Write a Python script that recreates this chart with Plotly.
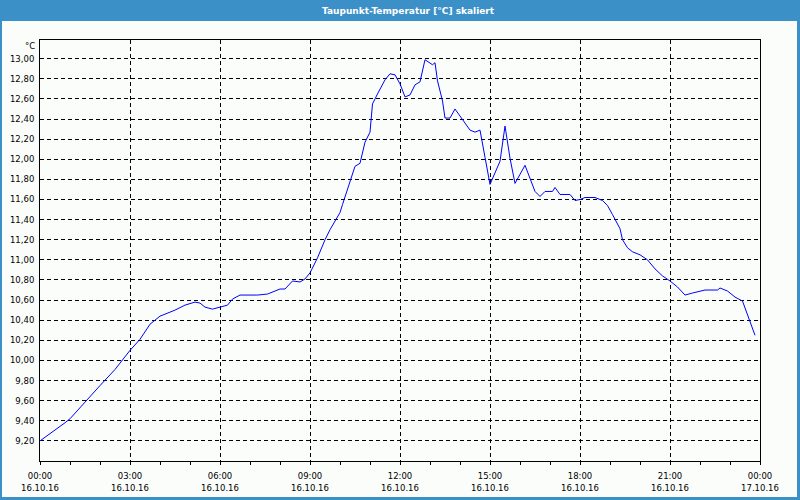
import plotly.graph_objects as go

# --- data ---
times = ["00:00","00:20","00:30","00:50","01:00","01:30","02:00","02:30","03:00","03:20",
         "03:40","04:00","04:30","04:50","05:10","05:20","05:30","05:45","06:00","06:15",
         "06:25","06:40","07:15","07:35","08:00","08:10","08:25","08:40","08:50","09:00",
         "09:15","09:30","09:40","09:50","10:00","10:05","10:20","10:30","10:40","10:50",
         "11:00","11:05","11:15","11:30","11:40","11:50","12:00","12:10","12:20","12:30",
         "12:40","12:50","13:05","13:10","13:15","13:25","13:30","13:40","13:50","14:05",
         "14:20","14:30","14:40","14:50","15:00","15:20","15:30","15:40","15:50","16:10",
         "16:20","16:30","16:40","16:50","17:05","17:10","17:20","17:40","17:50","18:00",
         "18:10","18:30","18:45","18:55","19:05","19:15","19:20","19:25","19:35","19:45",
         "20:00","20:15","20:30","20:45","21:00","21:15","21:30","21:45","22:00","22:10",
         "22:35","22:40","22:55","23:10","23:25","23:30","23:40","23:45","23:50"]
dewpoint = [9.20,9.27,9.31,9.38,9.42,9.59,9.75,9.91,10.10,10.21,
            10.36,10.44,10.50,10.55,10.58,10.57,10.53,10.51,10.53,10.55,
            10.61,10.65,10.65,10.66,10.71,10.71,10.79,10.78,10.81,10.87,
            11.02,11.20,11.30,11.38,11.47,11.55,11.78,11.93,11.96,12.17,
            12.27,12.55,12.65,12.79,12.85,12.84,12.75,12.62,12.64,12.74,
            12.77,12.99,12.94,12.96,12.78,12.58,12.41,12.41,12.50,12.40,
            12.29,12.27,12.29,12.02,11.75,11.98,12.33,12.01,11.76,11.94,
            11.80,11.68,11.63,11.68,11.68,11.72,11.65,11.65,11.59,11.60,
            11.62,11.62,11.59,11.54,11.45,11.36,11.31,11.20,11.12,11.08,
            11.05,11.00,10.91,10.84,10.79,10.73,10.65,10.67,10.69,10.70,
            10.70,10.72,10.69,10.63,10.59,10.52,10.40,10.32,10.25]
date = "2016-10-16"
x_vals = [f"{date} {t}" for t in times]
y_ticks = [9.2, 9.4, 9.6, 9.8, 10.0, 10.2, 10.4, 10.6, 10.8, 11.0,
           11.2, 11.4, 11.6, 11.8, 12.0, 12.2, 12.4, 12.6, 12.8, 13.0]
title_text = "Taupunkt-Temperatur [°C] skaliert"
unit_text = "°C"

BLUE = "#3c90c8"
BG = "#fbfdfb"
FONT = "DejaVu Sans"
x_range = ["2016-10-16 00:00", "2016-10-17 00:00"]
H = 3600000

fig = go.Figure()
fig.add_trace(go.Scatter(x=x_vals, y=dewpoint, mode="lines",
                         line=dict(color="#0000ff", width=1), xaxis="x", yaxis="y",
                         showlegend=False, hoverinfo="skip"))
# invisible trace for the date axis
fig.add_trace(go.Scatter(x=x_range, y=[None, None], xaxis="x2", yaxis="y",
                         showlegend=False, hoverinfo="skip"))

W, Hh = 800, 500
ml, mr, mt, mb = 40, 40, 40, 39
pw, ph = W - ml - mr, Hh - mt - mb
def px(xp): return (xp - ml) / pw
def py(yp): return 1 - (yp - mt) / ph

fig.update_layout(
    width=W, height=Hh,
    margin=dict(l=ml, r=mr, t=mt, b=mb, pad=0, autoexpand=False),
    paper_bgcolor=BLUE, plot_bgcolor=BG,
    separators=",.",
    font=dict(family=FONT, size=8.5, color="#000000"),
    xaxis=dict(type="date", range=x_range, tickformat="%H:%M", dtick=3 * H,
               tick0="2016-10-16 00:00", automargin=False,
               showgrid=True, gridcolor="#000000", griddash="4px,3px", gridwidth=1,
               showline=True, linecolor="#000000", linewidth=1, mirror=True,
               ticks="outside", ticklen=3, tickcolor="#000000", tickwidth=1,
               minor=dict(dtick=H, ticks="outside", ticklen=3, tickcolor="#000000",
                          showgrid=False),
               zeroline=False, fixedrange=True, ticklabelstandoff=4),
    xaxis2=dict(type="date", range=x_range, tickformat="%d.%m.%y", dtick=3 * H,
                tick0="2016-10-16 00:00", overlaying="x", side="bottom", anchor="y",
                showgrid=False, showline=False, ticks="", zeroline=False,
                automargin=False, ticklabelstandoff=20, fixedrange=True),
    yaxis=dict(range=[9.0, 13.186], tickvals=y_ticks, tickformat=".2f",
               showgrid=True, gridcolor="#000000", griddash="4px,3px", gridwidth=1,
               showline=True, linecolor="#000000", linewidth=1, mirror=True,
               automargin=False,
               ticks="", zeroline=False, fixedrange=True, ticklabelstandoff=3),
    shapes=[dict(type="rect", xref="paper", yref="paper", layer="below",
                 x0=px(2), x1=px(797), y0=py(497), y1=py(21),
                 fillcolor=BG, line=dict(width=0))],
    annotations=[
        dict(text="<b>" + title_text + "</b>", xref="paper", yref="paper", x=px(408), y=py(10.5),
             xanchor="center", yanchor="middle", showarrow=False,
             font=dict(family=FONT, size=9, color="#ffffff")),
        dict(text=unit_text, xref="paper", yref="paper", x=0, y=py(45.5),
             xanchor="right", yanchor="middle", xshift=-3, showarrow=False,
             font=dict(family=FONT, size=8.5, color="#000000")),
    ],
)

fig.write_html("out.html")
